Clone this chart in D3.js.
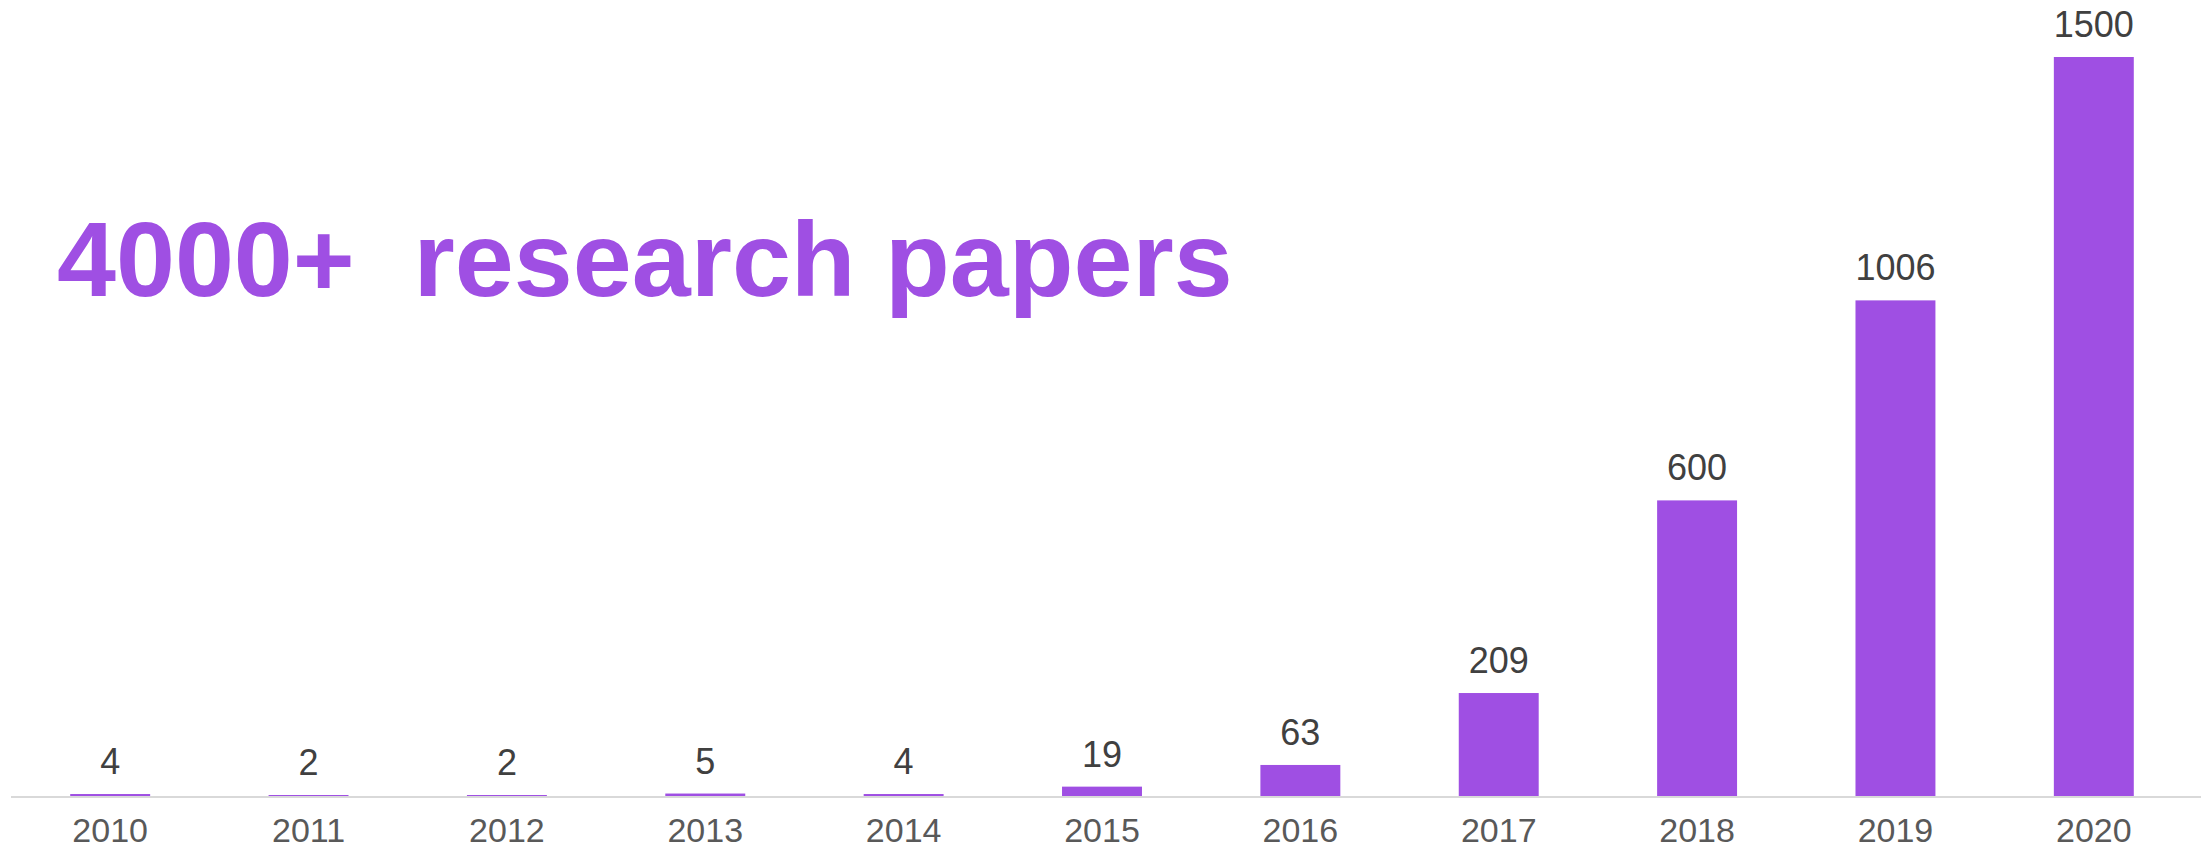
<!DOCTYPE html>
<html>
<head>
<meta charset="utf-8">
<script src="https://cdn.jsdelivr.net/npm/d3@7"></script>
<style>
    body { margin: 0; background: #fff; }
    svg { display: block; }
</style>
</head>
<body>
<svg id="chart"></svg>
<script>
const years = ["2010", "2011", "2012", "2013", "2014", "2015", "2016", "2017", "2018", "2019", "2020"];
const papers = [4, 2, 2, 5, 4, 19, 63, 209, 600, 1006, 1500];
const headline = "4000+  research papers";

function drawChart() {
    const width = 2201, height = 850;
    const baseline = 796;
    const purple = "#9f4fe3";

    const svg = d3.select("#chart")
        .attr("width", width)
        .attr("height", height);

    const data = years.map((y, i) => ({year: y, value: papers[i]}));

    const x = d3.scaleBand()
        .domain(years)
        .range([11, 2193])
        .paddingInner(0.597)
        .paddingOuter(0.2985);

    const y = d3.scaleLinear()
        .domain([0, 1500])
        .range([baseline, 57]);

    // bars
    svg.selectAll(".bar")
        .data(data)
        .join("rect")
        .attr("class", "bar")
        .attr("x", (d) => x(d.year))
        .attr("y", (d) => y(d.value))
        .attr("width", x.bandwidth())
        .attr("height", (d) => baseline - y(d.value))
        .attr("fill", purple);

    // baseline
    svg.append("line")
        .attr("x1", 11)
        .attr("x2", width)
        .attr("y1", baseline + 1)
        .attr("y2", baseline + 1)
        .attr("stroke", "#d9d9d9")
        .attr("stroke-width", 2)
        .attr("shape-rendering", "crispEdges");

    // value labels
    svg.selectAll(".val")
        .data(data)
        .join("text")
        .attr("class", "val")
        .attr("x", (d) => x(d.year) + x.bandwidth() / 2)
        .attr("y", (d) => y(d.value) - 20)
        .attr("text-anchor", "middle")
        .attr("font-family", "Liberation Sans, Arial, sans-serif")
        .attr("font-size", "36px")
        .attr("fill", "#404040")
        .text((d) => d.value);

    // x axis labels
    const axis = svg.append("g")
        .attr("transform", `translate(0, ${baseline})`)
        .call(d3.axisBottom(x).tickSize(0).tickPadding(46));
    axis.select(".domain").remove();
    axis.selectAll("text")
        .attr("dy", 0)
        .style("font-family", "Liberation Sans, Arial, sans-serif")
        .style("font-size", "34px")
        .attr("fill", "#595959");

    // headline
    svg.append("text")
        .attr("x", 57)
        .attr("y", 296)
        .attr("xml:space", "preserve")
        .style("white-space", "pre")
        .attr("font-family", "Liberation Sans, Arial, sans-serif")
        .attr("font-weight", "bold")
        .attr("font-size", "106px")
        .attr("fill", purple)
        .text(headline);
}

drawChart();
</script>
</body>
</html>
